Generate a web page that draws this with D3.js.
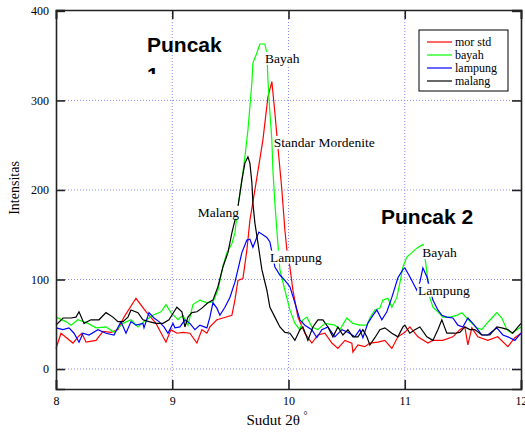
<!DOCTYPE html>
<html><head><meta charset="utf-8">
<script src="https://cdn.jsdelivr.net/npm/d3@7/dist/d3.min.js"></script>
<style>body{margin:0;background:#fff}svg{display:block}</style>
</head><body>
<script>
// ---- data: [2theta (deg), intensity] ----
const morStd = [[8.00,23],[8.043,40],[8.146,29],[8.189,36],[8.223,40],[8.258,30],[8.344,32],[8.404,42],[8.473,41],[8.533,44],[8.585,58],[8.688,79],[8.774,64],[8.86,51],[8.946,30],[8.989,44],[9.04,40],[9.092,41],[9.152,40],[9.212,29],[9.255,44],[9.298,40],[9.324,47],[9.384,55],[9.436,57],[9.513,60],[9.539,77],[9.565,99],[9.608,101],[9.642,133],[9.668,166],[9.711,200],[9.78,256],[9.823,304],[9.857,321],[9.883,286],[9.909,248],[9.943,200],[9.969,155],[9.986,133],[10.012,114],[10.038,88],[10.081,58],[10.141,40],[10.201,29],[10.253,38],[10.313,40],[10.373,29],[10.425,23],[10.485,32],[10.545,29],[10.554,19],[10.597,27],[10.657,25],[10.70,29],[10.769,30],[10.829,32],[10.889,23],[10.941,36],[11.001,41],[11.044,47],[11.113,36],[11.199,29],[11.242,32],[11.328,32],[11.414,36],[11.474,44],[11.517,47],[11.543,27],[11.577,46],[11.629,36],[11.714,32],[11.80,36],[11.887,25],[11.947,35],[12.0,40]];
const bayah = [[8.00,58],[8.086,53],[8.129,49],[8.189,55],[8.275,51],[8.344,46],[8.43,47],[8.499,41],[8.576,51],[8.645,55],[8.705,47],[8.757,53],[8.834,60],[8.903,64],[8.946,72],[8.989,63],[9.049,55],[9.092,60],[9.135,49],[9.178,72],[9.238,77],[9.298,74],[9.35,75],[9.393,88],[9.436,115],[9.47,130],[9.513,140],[9.539,152],[9.565,181],[9.599,211],[9.625,237],[9.651,267],[9.668,293],[9.685,320],[9.694,342],[9.728,353],[9.754,363],[9.797,363],[9.814,353],[9.823,323],[9.84,286],[9.857,256],[9.866,222],[9.883,185],[9.90,155],[9.926,111],[9.969,88],[10.012,66],[10.055,51],[10.098,44],[10.124,55],[10.158,58],[10.201,47],[10.253,44],[10.313,51],[10.399,49],[10.442,44],[10.502,57],[10.554,51],[10.614,49],[10.674,49],[10.70,57],[10.743,66],[10.786,68],[10.812,77],[10.855,79],[10.889,69],[10.932,80],[10.958,96],[10.984,114],[11.018,125],[11.061,130],[11.104,135],[11.156,139],[11.181,118],[11.199,99],[11.216,80],[11.242,69],[11.285,64],[11.328,58],[11.388,58],[11.448,60],[11.491,63],[11.534,57],[11.577,51],[11.62,46],[11.663,44],[11.706,51],[11.749,57],[11.792,63],[11.835,57],[11.878,44],[11.921,40],[11.964,44],[12.0,47]];
const lampung = [[8.00,46],[8.06,44],[8.112,46],[8.155,40],[8.198,30],[8.232,40],[8.284,38],[8.361,44],[8.43,40],[8.499,38],[8.559,53],[8.602,40],[8.645,53],[8.688,49],[8.748,51],[8.757,46],[8.80,63],[8.843,57],[8.886,53],[8.929,47],[8.963,40],[9.006,51],[9.023,46],[9.066,47],[9.109,55],[9.152,51],[9.195,44],[9.238,49],[9.298,46],[9.324,58],[9.35,74],[9.384,68],[9.41,60],[9.453,69],[9.496,80],[9.539,97],[9.565,111],[9.599,130],[9.642,144],[9.668,145],[9.694,136],[9.745,153],[9.814,147],[9.84,142],[9.883,114],[9.926,105],[9.969,99],[10.012,92],[10.055,74],[10.098,55],[10.141,49],[10.201,44],[10.244,35],[10.287,44],[10.339,47],[10.399,36],[10.459,44],[10.511,41],[10.571,36],[10.614,44],[10.64,35],[10.682,51],[10.726,60],[10.76,66],[10.803,55],[10.846,64],[10.889,80],[10.941,102],[10.984,111],[11.001,113],[11.044,103],[11.104,88],[11.13,97],[11.156,113],[11.19,103],[11.216,90],[11.242,77],[11.285,66],[11.319,60],[11.362,58],[11.414,57],[11.457,49],[11.50,47],[11.543,57],[11.586,51],[11.629,44],[11.663,38],[11.714,38],[11.792,46],[11.844,38],[11.904,35],[11.947,32],[12.0,40]];
const malang = [[8.00,49],[8.06,57],[8.129,57],[8.172,58],[8.198,64],[8.241,51],[8.301,55],[8.37,55],[8.43,63],[8.49,58],[8.533,53],[8.576,53],[8.619,58],[8.645,66],[8.705,63],[8.748,55],[8.80,53],[8.86,51],[8.92,51],[8.972,55],[9.015,64],[9.04,69],[9.083,64],[9.109,47],[9.135,58],[9.169,63],[9.212,64],[9.255,68],[9.307,74],[9.35,77],[9.393,92],[9.436,114],[9.479,130],[9.513,152],[9.539,166],[9.565,181],[9.599,211],[9.625,230],[9.651,237],[9.668,230],[9.685,208],[9.694,185],[9.711,163],[9.737,141],[9.771,111],[9.814,88],[9.84,69],[9.883,58],[9.926,47],[9.969,41],[10.012,40],[10.055,32],[10.098,44],[10.124,47],[10.167,32],[10.21,47],[10.253,55],[10.296,55],[10.339,47],[10.382,36],[10.425,47],[10.468,38],[10.511,44],[10.554,36],[10.597,36],[10.64,44],[10.674,36],[10.70,27],[10.743,35],[10.786,44],[10.829,46],[10.889,40],[10.941,36],[10.984,47],[11.001,49],[11.044,40],[11.087,44],[11.13,47],[11.19,36],[11.242,32],[11.285,44],[11.319,55],[11.362,40],[11.431,40],[11.474,41],[11.517,47],[11.56,44],[11.603,44],[11.663,38],[11.732,38],[11.792,47],[11.835,46],[11.887,44],[11.929,40],[12.0,51]];

const seriesNames = ["mor std","bayah","lampung","malang"];
const seriesColors = ["#ff0000","#00ff00","#0000ff","#000000"];
const seriesData = [morStd, bayah, lampung, malang];
const xTicks = [8,9,10,11,12];
const yTicks = [0,100,200,300,400];

// annotations: [text, 2theta, intensity(baseline)]
const annotations = [["Bayah",9.797,342],["Standar Mordenite",9.874,248],["Malang",9.22,170],["Lampung",9.84,120],["Bayah",11.15,125],["Lampung",11.115,83]];

const W = 525, H = 432;
const svg = d3.select("body").append("svg").attr("width",W).attr("height",H);
const x = d3.scaleLinear().domain([8,12]).range([56,521]);
const y = d3.scaleLinear().domain([-22.3,401]).range([389,10]);
const serif = "'Liberation Serif','Times New Roman',serif";

// grid
const grid = svg.append("g").attr("stroke","#8c8cff").attr("stroke-width",1).attr("stroke-dasharray","1,2");
xTicks.filter(t=>t>8&&t<12).forEach(t=>grid.append("line").attr("x1",x(t)).attr("x2",x(t)).attr("y1",y.range()[1]).attr("y2",y.range()[0]));
yTicks.filter(t=>t<400).forEach(t=>grid.append("line").attr("x1",x(8)).attr("x2",x(12)).attr("y1",y(t)).attr("y2",y(t)));

// series
const line = d3.line().x(d=>x(d[0])).y(d=>y(d[1]));
seriesData.forEach((s,i)=>{
  svg.append("path").datum(s).attr("d",line).attr("fill","none").attr("stroke",seriesColors[i]).attr("stroke-width",1.2);
});

// axes (inward ticks)
const ax = svg.append("g");
ax.append("g").attr("transform",`translate(0,${y.range()[0]})`).call(d3.axisBottom(x).tickValues(xTicks).tickSize(-9).tickPadding(7).tickFormat(d3.format("d")));
ax.append("g").attr("transform",`translate(0,${y.range()[1]})`).call(d3.axisTop(x).tickValues(xTicks).tickSize(-9).tickFormat(""));
ax.append("g").attr("transform",`translate(${x.range()[0]},0)`).call(d3.axisLeft(y).tickValues(yTicks).tickSize(-9).tickPadding(7).tickFormat(d3.format("d")));
ax.append("g").attr("transform",`translate(${x.range()[1]},0)`).call(d3.axisRight(y).tickValues(yTicks).tickSize(-9).tickFormat(""));
ax.selectAll(".domain").attr("stroke","#222").attr("stroke-width",1.6);
ax.selectAll(".tick line").attr("stroke","#222").attr("stroke-width",1.6);
ax.selectAll(".tick text").attr("font-family",serif).attr("font-size",12).attr("fill","#000");

// axis titles
svg.append("text").attr("transform",`translate(19,188) rotate(-90)`).attr("text-anchor","middle")
  .attr("font-family",serif).attr("font-size",14).text("Intensitas");
const xt = svg.append("text").attr("x",277).attr("y",425).attr("text-anchor","middle").attr("font-family",serif).attr("font-size",15);
xt.append("tspan").text("Sudut 2θ ");
xt.append("tspan").attr("font-size",10).attr("dy",-6).text("°");

// annotations with white background
annotations.forEach(a=>{
  const g = svg.append("g");
  const t = g.append("text").attr("x",x(a[1])).attr("y",y(a[2])).attr("font-family",serif).attr("font-size",13.5).attr("fill","#000").text(a[0]);
  const b = t.node().getBBox();
  g.insert("rect","text").attr("x",b.x-1).attr("y",b.y+1).attr("width",b.width+2).attr("height",b.height-2).attr("fill","#fff");
});

// Puncak labels
svg.append("defs").append("clipPath").attr("id","pclip").append("rect").attr("x",0).attr("y",0).attr("width",W).attr("height",74);
const bold = "'Liberation Sans',Arial,sans-serif";
svg.append("text").attr("x",147).attr("y",52).attr("font-family",bold).attr("font-weight","bold").attr("font-size",21).text("Puncak");
svg.append("text").attr("x",147).attr("y",82).attr("font-family",bold).attr("font-weight","bold").attr("font-size",21).attr("clip-path","url(#pclip)").text("1");
svg.append("text").attr("x",381).attr("y",224).attr("font-family",bold).attr("font-weight","bold").attr("font-size",21).text("Puncak 2");

// legend
const lg = svg.append("g");
lg.append("rect").attr("x",419).attr("y",30).attr("width",89).attr("height",61).attr("fill","#fff").attr("stroke","#000").attr("stroke-width",1);
seriesNames.forEach((n,i)=>{
  const yy = 42 + i*13;
  lg.append("line").attr("x1",427).attr("x2",452).attr("y1",yy).attr("y2",yy).attr("stroke",seriesColors[i]).attr("stroke-width",1.2);
  lg.append("text").attr("x",455).attr("y",yy+3.5).attr("font-family",serif).attr("font-size",12).text(n);
});
</script>
</body></html>
